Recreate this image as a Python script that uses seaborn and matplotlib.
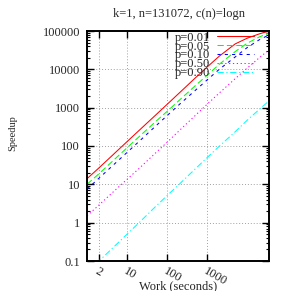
import seaborn as sns
import pandas as pd
import matplotlib.pyplot as plt
from matplotlib.ticker import LogLocator, NullLocator, FixedLocator

sns.set_theme(style="ticks")
plt.rcParams['font.family'] = ['Liberation Serif', 'DejaVu Serif']

# work (seconds) sampled along each curve
work = [1, 2, 5, 10, 20, 50, 100, 200, 500, 1000, 2000, 5000, 10000, 20000, 35000]

# speedup, one list per p
speedup_p001 = [14, 27, 66, 130, 255, 620, 1220, 2400, 5900, 11500, 22000, 46000, 65000, 84000, 100000]
speedup_p005 = [10, 19, 46, 90, 175, 420, 800, 1550, 3700, 7000, 13500, 29000, 48000, 70000, 88000]
speedup_p010 = [7.5, 14.5, 35, 68, 132, 320, 620, 1200, 2800, 5300, 10000, 21000, 37000, 59000, 79000]
speedup_p050 = [1.5, 2.9, 7, 13.5, 26, 64, 125, 250, 620, 1230, 2400, 5700, 10800, 20000, 32400]
speedup_p090 = [0.05, 0.1, 0.25, 0.5, 1.0, 2.55, 5.1, 10, 25, 50, 98, 235, 470, 900, 1500]

labels = ["p=0.01", "p=0.05", "p=0.10", "p=0.50", "p=0.90"]
series = [speedup_p001, speedup_p005, speedup_p010, speedup_p050, speedup_p090]

xtick_vals = [2, 10, 100, 1000]
xtick_labels = ["2", "10", "100", "1000"]
ytick_vals = [0.1, 1, 10, 100, 1000, 10000, 100000]
ytick_labels = ["0.1", "1", "10", "100", "1000", "10000", "100000"]

rows = []
for lab, vals in zip(labels, series):
    for w, s in zip(work, vals):
        rows.append({"work": w, "speedup": s, "p": lab})
df = pd.DataFrame(rows)

colors = {"p=0.01": "#ff0000", "p=0.05": "#00ff00", "p=0.10": "#0000ff",
          "p=0.50": "#ff00ff", "p=0.90": "#00ffff"}
dashes = {"p=0.01": "", "p=0.05": (6, 3), "p=0.10": (3, 4),
          "p=0.50": (1.2, 2.5), "p=0.90": (6, 2.5, 1.2, 2.5)}

fig = plt.figure(figsize=(2.91, 2.91), dpi=100)
ax = fig.add_axes([87/291, 30/291, 182/291, 230/291])

sns.lineplot(data=df, x="work", y="speedup", hue="p", style="p",
             hue_order=labels, style_order=labels,
             palette=colors, dashes=dashes, lw=0.75, legend=False, ax=ax)

ax.set_xscale('log')
ax.set_yscale('log')
ax.set_xlim(1, 35000)
ax.set_ylim(0.1, 100000)

ax.xaxis.set_major_locator(FixedLocator(xtick_vals))
ax.xaxis.set_minor_locator(NullLocator())
ax.set_xticklabels(xtick_labels, rotation=-30, ha='left', va='top',
                   rotation_mode='anchor', fontsize=9)
ax.yaxis.set_major_locator(FixedLocator(ytick_vals))
ax.yaxis.set_minor_locator(LogLocator(base=10, subs=range(2, 10)))
ax.set_yticklabels(ytick_labels, fontsize=9)

ax.tick_params(which='both', direction='in', top=True, right=True, color='black')
ax.tick_params(which='major', length=5, width=1)
ax.tick_params(which='minor', length=2.5, width=0.8)
ax.tick_params(axis='y', which='major', pad=5)
ax.tick_params(axis='x', which='major', pad=3)

ax.grid(True, which='major', color='#a0a0a0', linestyle=(0, (1, 2)), linewidth=0.7)
for sp in ax.spines.values():
    sp.set_linewidth(1.4)
    sp.set_color('black')

ax.set_xlabel("")
ax.set_ylabel("")
fig.text(179/291, 1 - 14/291, "k=1, n=131072, c(n)=logn", ha='center', va='center', fontsize=9)
fig.text(178/291, 1 - 286/291, "Work (seconds)", ha='center', va='center', fontsize=9)
fig.text(13/291, 1 - 133/291, "Speedup", ha='center', va='center', rotation=90, fontsize=7.5)

leg = ax.legend(ax.get_lines()[:5], labels, loc='upper right',
                bbox_to_anchor=(0.918, 0.997), markerfirst=False, frameon=False,
                fontsize=9, handlelength=3.0, handletextpad=0.55,
                labelspacing=-0.25, borderaxespad=0, borderpad=0)

fig.savefig("out.png", dpi=100)
